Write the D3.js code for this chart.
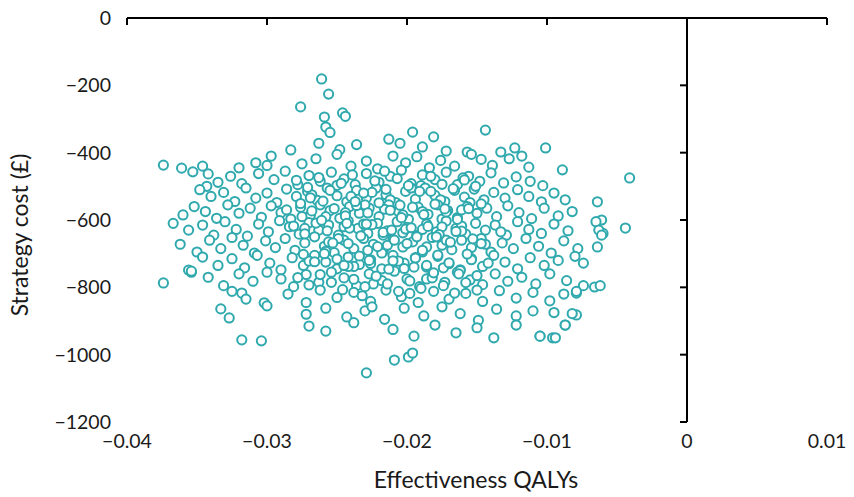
<!DOCTYPE html>
<html>
<head>
<meta charset="utf-8">
<script src="https://cdn.jsdelivr.net/npm/d3@7"></script>
<style>
  body { margin: 0; background: #fff; }
  text { font-family: Lato, "Open Sans", sans-serif; fill: #1a1a1a; }
</style>
</head>
<body>
<div id="chart"></div>
<script>
const xTicks = [-0.04, -0.03, -0.02, -0.01, 0, 0.01];
const yTicks = [0, -200, -400, -600, -800, -1000, -1200];

// incremental effectiveness (QALYs) and cost (£)
const qaly = [
  -0.0374, -0.0361, -0.0353, -0.0346, -0.0342, -0.0374, -0.0356, -0.0354, -0.0333, -0.0327, -0.0318, -0.0318, -0.0302, -0.0304,
  -0.0261, -0.0256, -0.0276, -0.0259, -0.0246, -0.0244, -0.0258, -0.0255, -0.0229, -0.0209, -0.0199, -0.0196, -0.0196, -0.0181,
  -0.0144, -0.0123, -0.0101, -0.0118, -0.0089, -0.0041, -0.0044, -0.0064, -0.0061, -0.0060, -0.0074, -0.0066, -0.0062, -0.0079,
  -0.0079, -0.0087, -0.0096, -0.0105,
  -0.0236, -0.0213, -0.0205, -0.0189, -0.0172, -0.0157, -0.0283, -0.0263, -0.0248, -0.0133,
  -0.0297, -0.0275, -0.0265, -0.0250, -0.0240, -0.0229, -0.0221, -0.0210, -0.0201, -0.0193, -0.0184, -0.0176, -0.0166, -0.0154,
  -0.0147, -0.0139, -0.0127, -0.0113, -0.0300, -0.0320, -0.0308,
  -0.0335, -0.0326, -0.0318, -0.0306, -0.0295, -0.0287, -0.0278, -0.0270, -0.0262, -0.0254, -0.0245, -0.0237, -0.0229, -0.0220,
  -0.0212, -0.0204, -0.0197, -0.0189, -0.0180, -0.0172, -0.0164, -0.0156, -0.0148, -0.0140, -0.0131, -0.0122, -0.0112, -0.0103,
  -0.0343, -0.0250, -0.0216, -0.0190, -0.0160,
  -0.0348, -0.0340, -0.0331, -0.0323, -0.0315, -0.0308, -0.0300, -0.0293, -0.0286, -0.0279, -0.0271, -0.0264, -0.0257, -0.0250,
  -0.0243, -0.0236, -0.0229, -0.0222, -0.0215, -0.0208, -0.0201, -0.0194, -0.0187, -0.0180, -0.0173, -0.0166, -0.0159, -0.0152,
  -0.0145, -0.0138, -0.0130, -0.0121, -0.0113, -0.0104, -0.0095, -0.0087, -0.0268, -0.0240, -0.0212, -0.0183, -0.0155, -0.0225,
  -0.0197, -0.0176,
  -0.0360, -0.0352, -0.0344, -0.0336, -0.0328, -0.0320, -0.0312, -0.0304, -0.0297, -0.0290, -0.0283, -0.0276, -0.0269, -0.0262,
  -0.0255, -0.0248, -0.0241, -0.0234, -0.0227, -0.0220, -0.0213, -0.0206, -0.0199, -0.0192, -0.0185, -0.0178, -0.0171, -0.0164,
  -0.0157, -0.0150, -0.0143, -0.0136, -0.0128, -0.0120, -0.0111, -0.0102, -0.0092, -0.0082, -0.0286, -0.0258, -0.0230, -0.0203,
  -0.0175, -0.0147, -0.0244, -0.0216, -0.0189, -0.0161,
  -0.0367, -0.0356, -0.0346, -0.0338, -0.0330, -0.0322, -0.0314, -0.0306, -0.0299, -0.0291, -0.0284, -0.0277, -0.0270, -0.0263,
  -0.0256, -0.0249, -0.0242, -0.0235, -0.0228, -0.0221, -0.0214, -0.0207, -0.0200, -0.0193, -0.0186, -0.0179, -0.0172, -0.0165,
  -0.0158, -0.0151, -0.0144, -0.0137, -0.0129, -0.0121, -0.0113, -0.0104, -0.0095, -0.0085, -0.0065, -0.0063, -0.0061, -0.0273,
  -0.0245, -0.0217, -0.0189, -0.0161, -0.0133, -0.0231, -0.0203, -0.0175,
  -0.0362, -0.0350, -0.0341, -0.0333, -0.0325, -0.0317, -0.0309, -0.0301, -0.0294, -0.0287, -0.0280, -0.0273, -0.0266, -0.0259,
  -0.0252, -0.0245, -0.0238, -0.0231, -0.0224, -0.0217, -0.0210, -0.0203, -0.0196, -0.0189, -0.0182, -0.0175, -0.0168, -0.0161,
  -0.0154, -0.0147, -0.0140, -0.0132, -0.0124, -0.0115, -0.0106, -0.0097, -0.0088, -0.0078, -0.0064, -0.0256, -0.0228, -0.0200,
  -0.0172, -0.0144, -0.0214, -0.0186, -0.0242,
  -0.0346, -0.0335, -0.0325, -0.0316, -0.0307, -0.0298, -0.0290, -0.0282, -0.0274, -0.0266, -0.0258, -0.0250, -0.0242, -0.0234,
  -0.0226, -0.0218, -0.0210, -0.0202, -0.0194, -0.0186, -0.0178, -0.0170, -0.0162, -0.0154, -0.0146, -0.0138, -0.0130, -0.0121,
  -0.0112, -0.0102, -0.0092, -0.0080, -0.0238, -0.0206, -0.0174, -0.0142, -0.0270,
  -0.0354, -0.0342, -0.0331, -0.0320, -0.0310, -0.0300, -0.0290, -0.0281, -0.0272, -0.0263, -0.0254, -0.0245, -0.0236, -0.0227,
  -0.0218, -0.0209, -0.0200, -0.0191, -0.0182, -0.0173, -0.0164, -0.0155, -0.0146, -0.0137, -0.0128, -0.0118, -0.0108, -0.0098,
  -0.0086, -0.0074, -0.0224, -0.0186, -0.0150,
  -0.0325, -0.0315, -0.0285, -0.0272, -0.0262, -0.0250, -0.0238, -0.0226, -0.0215, -0.0204, -0.0192, -0.0181, -0.0170, -0.0158,
  -0.0146, -0.0134, -0.0122, -0.0110, -0.0098, -0.0088, -0.0079, -0.0232, -0.0198,
  -0.0300, -0.0272, -0.0258, -0.0243, -0.0230, -0.0216, -0.0202, -0.0188, -0.0175, -0.0162, -0.0149, -0.0136, -0.0122, -0.0110,
  -0.0095, -0.0082, -0.0225,
  -0.0270, -0.0238, -0.0210, -0.0195, -0.0180, -0.0165, -0.0150, -0.0138, -0.0122, -0.0105, -0.0094, -0.0087, -0.0258,
  // dense core
  -0.0279, -0.0271, -0.0263, -0.0255, -0.0247, -0.0239, -0.0231, -0.0223, -0.0215, -0.0207, -0.0199, -0.0191, -0.0183, -0.0175,
  -0.0167, -0.0159, -0.0151, -0.0276, -0.0268, -0.0260, -0.0252, -0.0244, -0.0236, -0.0228, -0.0220, -0.0212, -0.0204, -0.0196,
  -0.0188, -0.0180, -0.0172, -0.0164, -0.0156, -0.0281, -0.0273, -0.0265, -0.0257, -0.0249, -0.0241, -0.0233, -0.0225, -0.0217,
  -0.0209, -0.0201, -0.0193, -0.0185, -0.0177, -0.0169, -0.0161, -0.0153, -0.0274, -0.0266, -0.0258, -0.0250, -0.0242, -0.0234,
  -0.0226, -0.0218, -0.0210, -0.0202, -0.0194, -0.0186, -0.0178, -0.0170, -0.0162, -0.0154, -0.0278, -0.0270, -0.0262, -0.0254,
  -0.0246, -0.0238, -0.0230, -0.0222, -0.0214, -0.0206, -0.0198, -0.0190, -0.0182, -0.0174, -0.0166, -0.0158, -0.0150, -0.0269,
  -0.0261, -0.0253, -0.0245, -0.0237, -0.0229, -0.0221, -0.0213, -0.0205, -0.0197, -0.0189, -0.0181, -0.0173, -0.0165, -0.0157,
  -0.0275, -0.0259, -0.0243, -0.0227, -0.0211, -0.0195, -0.0179, -0.0163, -0.0147
];
const cost = [
  -437, -446, -457, -440, -463, -787, -749, -755, -864, -891, -956, -817, -846, -959,
  -181, -226, -264, -294, -282, -292, -324, -340, -1054, -1016, -1007, -995, -339, -353,
  -333, -386, -386, -410, -451, -475, -624, -546, -600, -640, -728, -799, -795, -817,
  -882, -912, -950, -945,
  -376, -360, -372, -383, -395, -398, -392, -372, -391, -398,
  -410, -433, -418, -405, -440, -425, -448, -410, -430, -412, -445, -423, -440, -405,
  -420, -438, -418, -443, -438, -445, -430,
  -488, -470, -492, -462, -480, -455, -495, -468, -485, -458, -478, -495, -462, -488,
  -470, -452, -492, -466, -480, -458, -495, -470, -485, -460, -490, -472, -485, -498,
  -500, -497, -455, -498, -475,
  -510, -530, -518, -545, -505, -535, -520, -548, -508, -530, -515, -542, -505, -528,
  -546, -512, -535, -505, -525, -548, -515, -538, -505, -527, -545, -512, -532, -508,
  -540, -518, -535, -510, -530, -546, -520, -540, -525, -530, -540, -515, -548, -518,
  -505, -540,
  -585, -560, -575, -595, -555, -580, -565, -592, -558, -578, -597, -562, -585, -555,
  -572, -595, -560, -580, -565, -590, -555, -575, -598, -562, -583, -555, -572, -593,
  -560, -580, -565, -590, -558, -578, -596, -565, -588, -575, -570, -590, -555, -585,
  -597, -552, -578, -568, -575, -570,
  -610, -630, -615, -645, -605, -628, -648, -612, -635, -602, -620, -642, -608, -630,
  -615, -645, -603, -625, -640, -610, -632, -605, -622, -646, -612, -635, -603, -625,
  -642, -610, -630, -615, -645, -605, -628, -640, -612, -632, -605, -630, -645, -625,
  -620, -645, -628, -618, -635, -612, -638, -620,
  -672, -695, -660, -685, -652, -675, -698, -662, -682, -655, -690, -668, -650, -678,
  -697, -660, -685, -655, -672, -692, -658, -680, -665, -695, -652, -675, -688, -660,
  -682, -655, -695, -668, -685, -655, -678, -698, -662, -685, -680, -665, -690, -670,
  -660, -672, -675, -680, -670,
  -710, -735, -715, -742, -705, -728, -748, -712, -735, -705, -725, -745, -710, -732,
  -718, -745, -705, -728, -712, -740, -708, -730, -748, -715, -738, -705, -725, -745,
  -712, -735, -720, -708, -738, -722, -742, -728, -722,
  -752, -770, -795, -760, -782, -755, -775, -798, -762, -785, -755, -772, -795, -760,
  -780, -752, -775, -798, -765, -785, -755, -778, -792, -760, -782, -770, -790, -760,
  -780, -795, -790, -775, -765,
  -812, -835, -820, -845, -808, -830, -815, -842, -808, -828, -845, -812, -835, -818,
  -842, -810, -832, -815, -840, -820, -812, -825, -818,
  -855, -880, -862, -888, -870, -895, -862, -885, -858, -878, -898, -865, -885, -870,
  -875, -878, -858,
  -915, -905, -925, -945, -912, -935, -920, -950, -912, -945, -950, -912, -930,
  // dense core
  -482, -503, -474, -512, -491, -466, -520, -484, -509, -477, -498, -515, -470, -494,
  -507, -481, -500, -551, -573, -544, -566, -588, -557, -579, -549, -571, -593, -562,
  -584, -553, -576, -598, -566, -618, -641, -609, -632, -655, -624, -647, -614, -637,
  -660, -627, -650, -619, -643, -666, -633, -656, -702, -724, -693, -716, -738, -707,
  -729, -698, -721, -744, -713, -735, -704, -727, -750, -718, -771, -793, -762, -785,
  -807, -776, -798, -767, -790, -812, -781, -803, -772, -795, -817, -786, -808, -534,
  -601, -668, -735, -545, -612, -679, -746, -556, -623, -690, -757, -567, -634, -701,
  -590, -700, -610, -720, -630, -740, -650, -760, -670
];

const W = 854, H = 497;
const margin = { top: 18, right: 27, bottom: 75, left: 127 };

const svg = d3.select("#chart").append("svg").attr("width", W).attr("height", H);

const x = d3.scaleLinear().domain([-0.04, 0.01]).range([margin.left, W - margin.right]);
const y = d3.scaleLinear().domain([-1200, 0]).range([H - margin.bottom, margin.top]);

const fmt = (v) => (v < 0 ? "\u2212" : "") + Math.abs(v);

// horizontal axis at cost = 0, ticks downward
svg.append("line").attr("x1", x(-0.04)).attr("x2", x(0.01))
  .attr("y1", y(0)).attr("y2", y(0)).attr("stroke", "#000").attr("stroke-width", 2);
svg.selectAll(".xt").data(xTicks).enter().append("line")
  .attr("x1", (d) => x(d)).attr("x2", (d) => x(d))
  .attr("y1", y(0)).attr("y2", y(0) + 7).attr("stroke", "#000").attr("stroke-width", 2);

// vertical axis at QALY = 0, ticks to the left
svg.append("line").attr("x1", x(0)).attr("x2", x(0))
  .attr("y1", y(0)).attr("y2", y(-1200)).attr("stroke", "#000").attr("stroke-width", 2);
svg.selectAll(".yt").data(yTicks).enter().append("line")
  .attr("x1", x(0) - 7).attr("x2", x(0))
  .attr("y1", (d) => y(d)).attr("y2", (d) => y(d)).attr("stroke", "#000").attr("stroke-width", 2);

// tick labels
svg.selectAll(".xl").data(xTicks).enter().append("text")
  .attr("x", (d) => x(d)).attr("y", 448).attr("text-anchor", "middle")
  .attr("font-size", 19.5).text((d) => (d === 0 ? "0" : fmt(d)));
svg.selectAll(".yl").data(yTicks).enter().append("text")
  .attr("x", 111).attr("y", (d) => y(d) + 7).attr("text-anchor", "end")
  .attr("font-size", 19.5).text(fmt);

// axis titles
svg.append("text").attr("x", 476).attr("y", 488).attr("text-anchor", "middle")
  .attr("font-size", 23).text("Effectiveness QALYs");
svg.append("text").attr("transform", "translate(28,235) rotate(-90)")
  .attr("text-anchor", "middle").attr("font-size", 23).text("Strategy cost (£)");

// points
svg.append("g").selectAll("circle").data(d3.range(qaly.length)).enter().append("circle")
  .attr("cx", (i) => x(qaly[i])).attr("cy", (i) => y(cost[i])).attr("r", 4.6)
  .attr("fill", "#fff").attr("stroke", "#2fa9ad").attr("stroke-width", 2);
</script>
</body>
</html>
